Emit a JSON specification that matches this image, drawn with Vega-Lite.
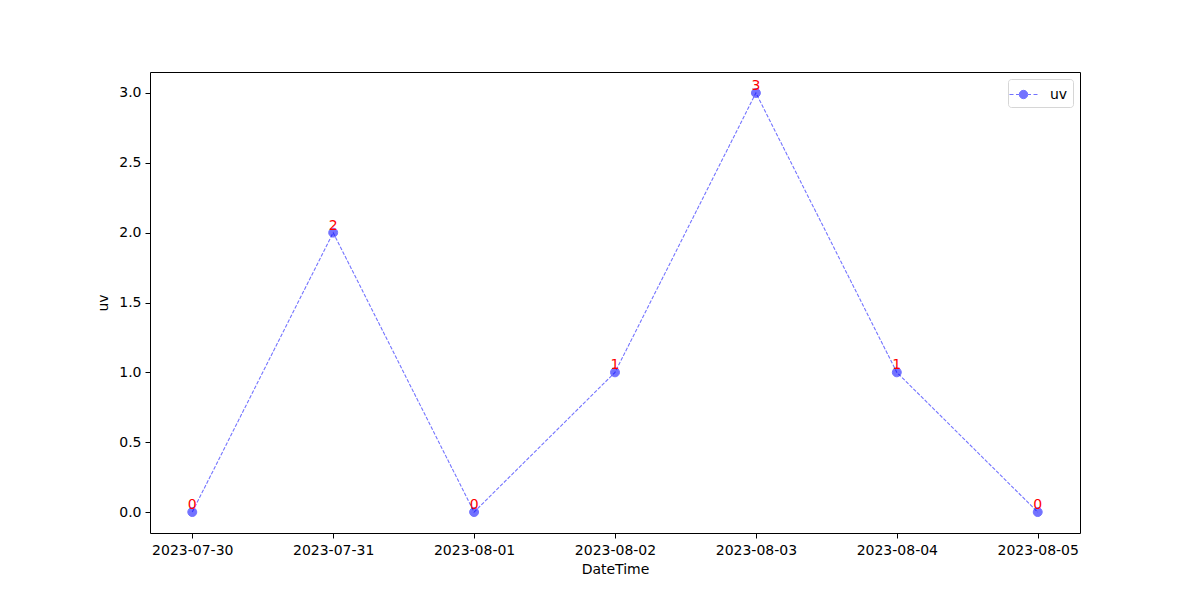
{
  "$schema": "https://vega.github.io/schema/vega-lite/v6.json",
  "width": 930,
  "height": 461,
  "autosize": {"type": "none"},
  "padding": {"left": 150, "top": 72, "right": 120, "bottom": 67},
  "background": "white",
  "config": {
    "font": "DejaVu Sans",
    "view": {"stroke": "black", "strokeWidth": 1},
    "axis": {
      "labelFont": "DejaVu Sans",
      "titleFont": "DejaVu Sans",
      "labelFontSize": 14,
      "titleFontSize": 14,
      "titleFontWeight": "normal",
      "labelColor": "black",
      "titleColor": "black",
      "tickColor": "black",
      "tickSize": 5,
      "domain": false,
      "grid": false
    }
  },
  "data": {
    "values": [
      {"DateTime": "2023-07-30", "uv": 0, "series": "uv"},
      {"DateTime": "2023-07-31", "uv": 2, "series": "uv"},
      {"DateTime": "2023-08-01", "uv": 0, "series": "uv"},
      {"DateTime": "2023-08-02", "uv": 1, "series": "uv"},
      {"DateTime": "2023-08-03", "uv": 3, "series": "uv"},
      {"DateTime": "2023-08-04", "uv": 1, "series": "uv"},
      {"DateTime": "2023-08-05", "uv": 0, "series": "uv"}
    ]
  },
  "encoding": {
    "x": {
      "field": "DateTime",
      "type": "ordinal",
      "scale": {"type": "point", "padding": 0.3},
      "axis": {"labelAngle": 0, "title": "DateTime", "titlePadding": 5, "labelPadding": 5}
    },
    "y": {
      "field": "uv",
      "type": "quantitative",
      "scale": {"domain": [-0.15, 3.15], "nice": false, "zero": false},
      "axis": {"values": [0, 0.5, 1, 1.5, 2, 2.5, 3], "format": ".1f", "title": "uv", "titlePadding": 8, "labelPadding": 4}
    }
  },
  "layer": [
    {
      "mark": {"type": "line", "opacity": 0.55, "strokeWidth": 1.1, "strokeDash": [3.7, 1.6]},
      "encoding": {
        "color": {
          "field": "series",
          "type": "nominal",
          "scale": {"range": ["blue"]},
          "legend": {
            "title": null,
            "orient": "top-right",
            "offset": 7,
            "symbolType": "M-1.4,0L-1.0,0M-0.75,0L-0.45,0M0.45,0L0.75,0M1.0,0L1.4,0M0.42,0A0.42,0.42 0 1,1 -0.42,0A0.42,0.42 0 1,1 0.42,0Z",
            "symbolSize": 400,
            "symbolFillColor": "blue",
            "symbolStrokeColor": "blue",
            "symbolOpacity": 0.55,
            "symbolStrokeWidth": 1,
            "labelFontSize": 14,
            "labelFont": "DejaVu Sans",
            "labelColor": "black",
            "labelOffset": 16,
            "strokeColor": "#d6d6d6",
            "fillColor": "white",
            "cornerRadius": 3,
            "padding": 5
          }
        }
      }
    },
    {
      "mark": {"type": "point", "shape": "circle", "filled": true, "size": 80, "color": "blue", "opacity": 0.55, "stroke": "blue", "strokeWidth": 1}
    },
    {
      "mark": {"type": "text", "color": "red", "fontSize": 14, "align": "center", "baseline": "alphabetic", "dy": -3},
      "encoding": {"text": {"field": "uv", "type": "quantitative"}}
    }
  ]
}
